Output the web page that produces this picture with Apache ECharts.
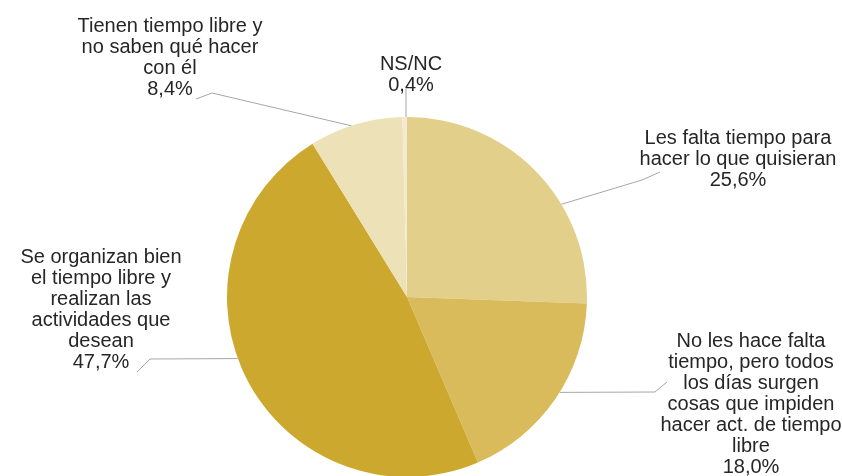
<!DOCTYPE html>
<html>
<head>
<meta charset="utf-8">
<script src="https://cdn.jsdelivr.net/npm/echarts@6/dist/echarts.min.js"></script>
<style>
  html, body { margin: 0; padding: 0; background: #fff; }
  #chart { width: 842px; height: 476px; }
</style>
</head>
<body>
<div id="chart"></div>
<script>
// categories, clockwise from 12 o'clock
const categories = [
  'Les falta tiempo para\nhacer lo que quisieran',
  'No les hace falta\ntiempo, pero todos\nlos días surgen\ncosas que impiden\nhacer act. de tiempo\nlibre',
  'Se organizan bien\nel tiempo libre y\nrealizan las\nactividades que\ndesean',
  'Tienen tiempo libre y\nno saben qué hacer\ncon él',
  'NS/NC'
]
const values = [25.6, 18.0, 47.7, 8.4, 0.4]
const colors = ['#e2cf8a', '#d9bb5b', '#cca92e', '#ede1b7', '#f4ead0']

// label anchor points (centre of each text block)
const labelPos = [
  [738, 159],
  [751, 404],
  [101, 310],
  [170, 58],
  [411, 75]
]
// leader lines: label-side points, then angle (deg, clockwise from top) where they meet the pie
const leaderPts = [
  [[660, 172], [642, 180]],
  [[667, 382], [655, 392]],
  [[137, 372], [150, 359]],
  [[196, 99], [212, 93]],
  [[406, 89]]
]
const leaderAngle = [59, 122, 250, 342, 359.7]

const cx = 407, cy = 297, r = 180

const chart = echarts.init(document.getElementById('chart'))

const option = {
  animation: false,
  series: [
    {
      type: 'pie',
      center: [cx, cy],
      radius: r,
      startAngle: 90,
      clockwise: true,
      data: categories.map((name, i) => ({
        name: name,
        value: values[i],
        itemStyle: { color: colors[i] }
      })),
      label: {
        show: true,
        position: 'outside',
        fontFamily: 'Liberation Sans, Arial, sans-serif',
        fontSize: 20,
        lineHeight: 21,
        color: '#262626',
        align: 'center',
        formatter: function (p) {
          return p.name + '\n' + p.value.toFixed(1).replace('.', ',') + '%'
        }
      },
      labelLine: {
        show: true,
        lineStyle: { color: '#a6a6a6', width: 1 }
      },
      labelLayout: function (params) {
        const i = params.dataIndex
        const p = labelPos[i]
        const a = leaderAngle[i] * Math.PI / 180
        const edge = [cx + r * Math.sin(a), cy - r * Math.cos(a)]
        return {
          x: p[0],
          y: p[1],
          align: 'center',
          verticalAlign: 'middle',
          labelLinePoints: leaderPts[i].concat([edge])
        }
      }
    }
  ]
}

chart.setOption(option)
</script>
</body>
</html>
